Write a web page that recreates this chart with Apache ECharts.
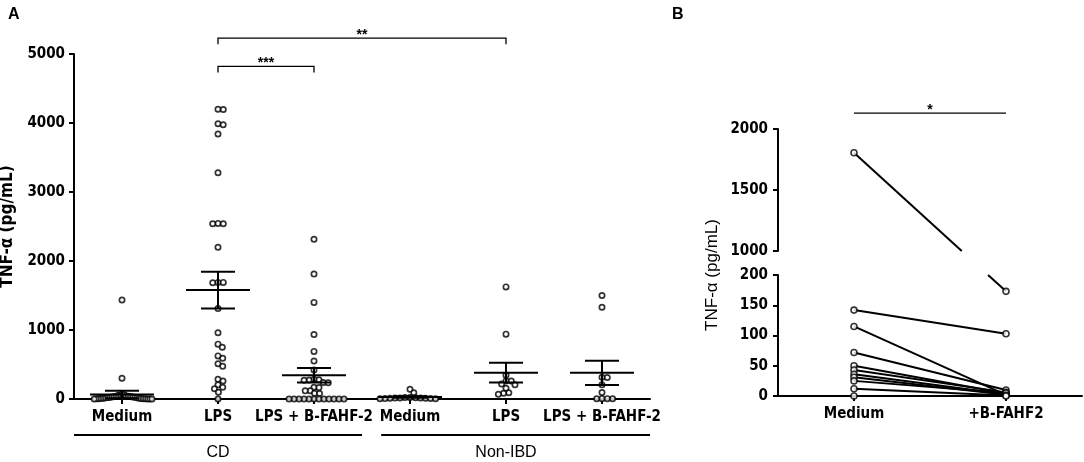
<!DOCTYPE html>
<html>
<head>
<meta charset="utf-8">
<script src="https://cdn.jsdelivr.net/npm/echarts@6/dist/echarts.min.js"></script>
<style>
html, body { margin: 0; padding: 0; background: #fff; }
#main { width: 1084px; height: 462px; }
</style>
</head>
<body>
<div id="main"></div>
<script>
// ---------- panel A : dot plot, mean +/- SEM
var categoriesA = ['Medium', 'LPS', 'LPS + B-FAHF-2', 'Medium', 'LPS', 'LPS + B-FAHF-2'];
var groupNamesA = ['CD', 'Non-IBD'];
var groupFirstA = [0, 3];
var groupLastA = [2, 5];

var cdMedium = [1435, 300, 70, 62, 55, 50, 45, 40, 38, 35, 32, 30, 28, 25, 22, 20, 18, 15, 12, 10, 8, 6, 5, 4, 3, 2, 1, 0, 0, 0];
var cdLps = [4200, 4195, 3990, 3975, 3840, 3280, 2545, 2540, 2540, 2200, 1690, 1690, 1685, 1310, 960, 795, 750, 625, 590, 510, 475, 285, 260, 205, 170, 148, 97, 0];
var cdLpsFahf = [2315, 1810, 1400, 935, 690, 550, 420, 285, 280, 275, 270, 240, 235, 170, 165, 120, 118, 82, 80, 0, 0, 0, 0, 0, 0, 0, 0, 0, 0, 0, 0];
var niMedium = [140, 90, 22, 20, 18, 16, 15, 13, 12, 10, 8, 6, 5, 3];
var niLps = [1625, 940, 345, 262, 260, 218, 205, 155, 90, 83, 68];
var niLpsFahf = [1500, 1330, 315, 312, 205, 95, 5, 5, 4, 3];

var meanA = [65, 1578, 344, 28, 382, 380];
var semA = [55, 268, 106, 11, 142, 176];
var ticksA = [0, 1000, 2000, 3000, 4000, 5000];

// significance: from category, to category, height (pg/mL), label
var sigFromA = [1, 1];
var sigToA = [2, 4];
var sigAtA = [4820, 5230];
var sigTextA = ['***', '**'];

// ---------- panel B : paired lines, broken axis
var categoriesB = ['Medium', '+B-FAHF2'];
var pairMedium = [1805, 142, 115, 72, 50, 43, 36, 31, 25, 12, 0];
var pairFahf = [173, 103, 2, 10, 4, 6, 3, 2, 5, 1, 0];
var ticksBLow = [0, 50, 100, 150, 200];
var ticksBHigh = [1000, 1500, 2000];
var sigAtB = [2130];
var sigTextB = ['*'];

var NARROW = "'DejaVu Sans Condensed', 'Liberation Sans Narrow', 'Liberation Sans', sans-serif";
var PLAIN = "'Liberation Sans', Arial, sans-serif";

var gridA = { left: 74, top: 54, width: 576, height: 345, outerBoundsMode: 'none' };
var gridBLow = { left: 778, top: 275, width: 304, height: 121, outerBoundsMode: 'none' };
var gridBHigh = { left: 778, top: 129, width: 304, height: 122, outerBoundsMode: 'none' };

var chart = echarts.init(document.getElementById('main'));

// simple beeswarm: spread equal-ish values sideways so circles don't collide
function swarm(values, center, pxPerUnit, bandPx, diam, maxHalf) {
  var order = values.map(function (v, i) { return i; })
    .sort(function (a, b) { return values[b] - values[a]; });
  var placed = [], xs = [];
  order.forEach(function (i) {
    var y = values[i] * pxPerUnit;
    var cands = [0];
    placed.forEach(function (p) {
      var dy = Math.abs(p.y - y);
      if (dy < diam) {
        var dx = Math.sqrt(diam * diam - dy * dy);
        cands.push(p.x + dx, p.x - dx);
      }
    });
    cands.sort(function (a, b) { return Math.abs(a) - Math.abs(b) || b - a; });
    var x = 0;
    for (var c = 0; c < cands.length; c++) {
      var ok = placed.every(function (p) {
        return (p.x - cands[c]) * (p.x - cands[c]) + (p.y - y) * (p.y - y) >= diam * diam - 1e-6;
      });
      if (ok) { x = cands[c]; break; }
    }
    placed.push({ x: x, y: y });
    xs[i] = x;
  });
  var widest = Math.max.apply(null, xs.map(Math.abs));
  var k = widest > maxHalf ? maxHalf / widest : 1;
  return values.map(function (v, i) { return [center + xs[i] * k / bandPx, v]; });
}

var pxPerUnitA = gridA.height / (ticksA[ticksA.length - 1] - ticksA[0]);
var bandA = gridA.width / categoriesA.length;
var pointsA = [];
[cdMedium, cdLps, cdLpsFahf, niMedium, niLps, niLpsFahf].forEach(function (vals, i) {
  pointsA = pointsA.concat(swarm(vals, i, pxPerUnitA, bandA, 5.3, 30));
});

function line(x1, y1, x2, y2, w) {
  return { type: 'line', shape: { x1: x1, y1: y1, x2: x2, y2: y2 },
    style: { stroke: '#000', lineWidth: w || 2 } };
}
function label(text, x, y, font) {
  return { type: 'text', x: x, y: y,
    style: { text: text, font: font, fill: '#000', align: 'center', verticalAlign: 'middle',
      textAlign: 'center', textVerticalAlign: 'middle' } };
}

function renderMeanSem(params, api) {
  var i = api.value(0), m = api.value(1), s = api.value(2);
  var c = api.coord([i, m]);
  var hi = api.coord([i, m + s]);
  var lo = api.coord([i, Math.max(m - s, 0)]);
  return { type: 'group', children: [
    line(c[0] - 32, c[1], c[0] + 32, c[1]),
    line(c[0] - 17, hi[1], c[0] + 17, hi[1]),
    line(c[0] - 17, lo[1], c[0] + 17, lo[1]),
    line(c[0], hi[1], c[0], lo[1])
  ] };
}

function bracketRenderer(froms, tos, ats, texts, tick) {
  return function (params, api) {
    var k = params.dataIndex;
    var a = api.coord([froms[k], ats[k]]);
    var b = api.coord([tos[k], ats[k]]);
    var kids = [
      { type: 'polyline', shape: { points: [[a[0], a[1] + tick], a, b, [b[0], b[1] + tick]] },
        style: { stroke: '#000', lineWidth: 1.3, fill: null } },
      label(texts[k], (a[0] + b[0]) / 2, a[1] - 3, 'bold 14px ' + PLAIN)
    ];
    return { type: 'group', children: kids };
  };
}

function renderGroups(params, api) {
  var k = params.dataIndex;
  var x1 = groupFirstA[k] - 0.5 + (k > 0 ? 0.2 : 0);
  var x2 = groupLastA[k] + 0.5;
  var mid = (groupFirstA[k] + groupLastA[k]) / 2;
  var p1 = api.coord([x1, 0]), p2 = api.coord([x2, 0]), pm = api.coord([mid, 0]);
  return { type: 'group', children: [
    line(p1[0], p1[1] + 36, p2[0], p2[1] + 36),
    label(groupNamesA[k], pm[0], pm[1] + 54, '16px ' + PLAIN)
  ] };
}

// values above the break are placed through the upper grid's axes
function pointB(cat, v, api) {
  if (v <= ticksBLow[ticksBLow.length - 1]) return api.coord([cat, v]);
  return chart.convertToPixel({ gridIndex: 2 }, [cat, v]);
}

function renderPair(params, api) {
  var k = params.dataIndex;
  var p1 = pointB(0, pairMedium[k], api);
  var p2 = pointB(1, pairFahf[k], api);
  if (!p1 || !p2) return;
  var lowTop = api.coord([0, ticksBLow[ticksBLow.length - 1]])[1];
  var upBot = chart.convertToPixel({ gridIndex: 2 }, [0, ticksBHigh[0]]);
  if (!upBot) return;
  upBot = upBot[1];
  var top = p1[1] < p2[1] ? p1 : p2, bot = p1[1] < p2[1] ? p2 : p1;
  if (top[1] >= lowTop || bot[1] <= upBot) {
    return line(p1[0], p1[1], p2[0], p2[1]);
  }
  function at(y) {
    var t = (y - top[1]) / (bot[1] - top[1]);
    return [top[0] + t * (bot[0] - top[0]), y];
  }
  var q1 = at(upBot), q2 = at(lowTop);
  return { type: 'group', children: [
    line(top[0], top[1], q1[0], q1[1]),
    line(q2[0], q2[1], bot[0], bot[1])
  ] };
}

var lowMax = ticksBLow[ticksBLow.length - 1];
var ptsBLow = [], ptsBHigh = [];
pairMedium.forEach(function (v) { (v <= lowMax ? ptsBLow : ptsBHigh).push([0, v]); });
pairFahf.forEach(function (v) { (v <= lowMax ? ptsBLow : ptsBHigh).push([1, v]); });

var axisLine = { show: true, onZero: false, lineStyle: { color: '#000', width: 2 } };
var axisTick = { show: true, length: 5, lineStyle: { color: '#000', width: 2 } };
var tickLabel = { color: '#000', fontFamily: NARROW, fontWeight: 'bold', fontSize: 15 };
var plainNumber = function (v) { return String(v); };

function valueAxis(grid, ticks, extra) {
  var ax = {
    type: 'value', gridIndex: grid,
    min: ticks[0], max: ticks[ticks.length - 1], interval: ticks[1] - ticks[0],
    axisLine: axisLine, axisTick: axisTick, splitLine: { show: false },
    axisLabel: Object.assign({ margin: 9, formatter: plainNumber }, tickLabel)
  };
  return Object.assign(ax, extra || {});
}
function catAxis(grid, cats) {
  return {
    type: 'category', gridIndex: grid, data: cats,
    axisLine: axisLine, axisTick: Object.assign({ alignWithLabel: true }, axisTick),
    axisLabel: Object.assign({ margin: 11, interval: 0, hideOverlap: false }, tickLabel)
  };
}

var option = {
  animation: false,
  backgroundColor: '#fff',
  grid: [gridA, gridBLow, gridBHigh],
  xAxis: [
    catAxis(0, categoriesA),
    { type: 'value', gridIndex: 0, min: -0.5, max: categoriesA.length - 0.5, show: false },
    catAxis(1, categoriesB),
    { type: 'category', gridIndex: 2, data: categoriesB, show: false }
  ],
  yAxis: [
    valueAxis(0, ticksA, {
      name: 'TNF-α (pg/mL)', nameLocation: 'middle', nameGap: 47,
      nameTextStyle: { color: '#000', fontFamily: NARROW, fontWeight: 'bold', fontSize: 17 }
    }),
    valueAxis(1, ticksBLow, { axisLabel: Object.assign({ margin: 10, formatter: plainNumber }, tickLabel) }),
    valueAxis(2, ticksBHigh, { axisLabel: Object.assign({ margin: 10, formatter: plainNumber }, tickLabel) })
  ],
  graphic: [
    { type: 'text', left: 8, top: 7, style: { text: 'A', font: 'bold 16px ' + PLAIN, fill: '#000' } },
    { type: 'text', left: 672, top: 7, style: { text: 'B', font: 'bold 16px ' + PLAIN, fill: '#000' } },
    { type: 'text', x: 712, y: 275, rotation: Math.PI / 2,
      style: { text: 'TNF-α (pg/mL)', font: '17px ' + PLAIN, fill: '#000',
        align: 'center', verticalAlign: 'middle', textAlign: 'center', textVerticalAlign: 'middle' } }
  ],
  series: [
    {
      type: 'scatter', xAxisIndex: 1, yAxisIndex: 0, data: pointsA,
      symbol: 'circle', symbolSize: 5.3, z: 3,
      itemStyle: { color: '#fff', borderColor: '#000', borderWidth: 1.7 }
    },
    {
      type: 'custom', xAxisIndex: 1, yAxisIndex: 0, z: 4,
      data: meanA.map(function (m, i) { return [i, m, semA[i]]; }),
      renderItem: renderMeanSem
    },
    {
      type: 'custom', xAxisIndex: 1, yAxisIndex: 0, clip: false,
      data: sigAtA.map(function (v, i) { return [sigFromA[i], v]; }),
      renderItem: bracketRenderer(sigFromA, sigToA, sigAtA, sigTextA, 6)
    },
    {
      type: 'custom', xAxisIndex: 1, yAxisIndex: 0, clip: false,
      data: groupNamesA.map(function (g, i) { return [groupFirstA[i], 0]; }),
      renderItem: renderGroups
    },
    {
      id: 'pairs', type: 'custom', xAxisIndex: 2, yAxisIndex: 1, clip: false, z: 2,
      data: pairMedium.map(function (v, i) { return [0, Math.min(v, lowMax)]; }),
      renderItem: renderPair
    },
    {
      type: 'scatter', xAxisIndex: 2, yAxisIndex: 1, data: ptsBLow, z: 3,
      symbol: 'circle', symbolSize: 6,
      itemStyle: { color: '#fff', borderColor: '#000', borderWidth: 1.6 }
    },
    {
      type: 'scatter', xAxisIndex: 3, yAxisIndex: 2, data: ptsBHigh, z: 3,
      symbol: 'circle', symbolSize: 6,
      itemStyle: { color: '#fff', borderColor: '#000', borderWidth: 1.6 }
    },
    {
      type: 'custom', xAxisIndex: 3, yAxisIndex: 2, clip: false,
      data: sigAtB.map(function (v) { return [0, v]; }),
      renderItem: bracketRenderer([0], [1], sigAtB, sigTextB, 0)
    }
  ]
};

chart.setOption(option);
// second pass so the broken-axis lines see the finished upper grid
chart.setOption(option);
</script>
</body>
</html>
